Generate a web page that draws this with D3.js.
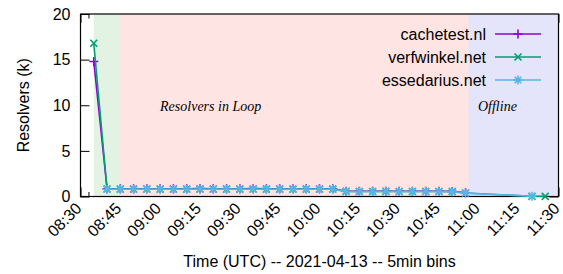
<!DOCTYPE html>
<html><head><meta charset="utf-8">
<script src="https://cdn.jsdelivr.net/npm/d3@7"></script>
<style>
html,body{margin:0;padding:0;background:#fff;}
svg{display:block;font-family:"Liberation Sans",Arial,Helvetica,sans-serif;}
</style></head>
<body>
<svg id="c" width="563" height="274"></svg>
<script>
// ---- data ----
const times = ["08:35","08:40","08:45","08:50","08:55","09:00","09:05","09:10","09:15","09:20",
  "09:25","09:30","09:35","09:40","09:45","09:50","09:55","10:00","10:05","10:10",
  "10:15","10:20","10:25","10:30","10:35","10:40","10:45","10:50","10:55","11:20","11:25"];
const seriesNames = ["cachetest.nl","verfwinkel.net","essedarius.net"];
const cachetest = [14.8,0.85,0.84,0.84,0.85,0.84,0.84,0.85,0.86,0.85,
  0.84,0.84,0.86,0.85,0.84,0.84,0.84,0.84,0.84,0.58,
  0.57,0.57,0.58,0.57,0.57,0.57,0.57,0.56,0.4,null,null];
const verfwinkel = [16.8,0.82,0.81,0.81,0.82,0.81,0.81,0.81,0.82,0.81,
  0.81,0.81,0.82,0.81,0.81,0.81,0.81,0.81,0.81,0.56,
  0.55,0.55,0.56,0.55,0.55,0.55,0.55,0.54,0.38,0.02,0.01];
const essedarius = [null,0.8,0.79,0.79,0.8,0.79,0.79,0.79,0.8,0.79,
  0.79,0.79,0.8,0.79,0.79,0.79,0.79,0.79,0.79,0.55,
  0.54,0.54,0.55,0.54,0.54,0.54,0.54,0.53,0.37,0.02,null];
const xTickLabels = ["08:30","08:45","09:00","09:15","09:30","09:45","10:00","10:15","10:30","10:45","11:00","11:15","11:30"];
const yTicks = [0,5,10,15,20];
const bandStarts = ["08:35","08:45","10:56:30"];
const bandEnds = ["08:45","10:56:30","11:30"];
const bandLabels = ["Resolvers in Loop","Offline"];
const bandLabelTimes = ["09:19","11:07"];
const xDomain = ["08:30","11:30"];
const yDomain = [0,20];

// ---- helpers ----
const parseT = s => { const p = s.split(":").map(Number); return new Date(Date.UTC(2021,3,13,p[0],p[1],p[2]||0)); };

const m = {l:80.5, r:558.5, t:14, b:196.5};
const svg = d3.select("#c");

const x = d3.scaleUtc().domain(xDomain.map(parseT)).range([m.l, m.r]);
const y = d3.scaleLinear().domain(yDomain).range([m.b, m.t]);

const majorTicks = xTickLabels.map(parseT);
const minorTicks = d3.utcMinute.every(3).range(parseT("08:30"), parseT("11:31"))
  .filter(d => d.getUTCMinutes() % 15 !== 0);

// minor ticks (bottom/top)
svg.append("g").attr("transform",`translate(0,${m.b})`)
  .call(d3.axisBottom(x).tickValues(minorTicks).tickSize(-4.5).tickFormat(""))
  .call(g=>g.select(".domain").remove());
svg.append("g").attr("transform",`translate(0,${m.t})`)
  .call(d3.axisTop(x).tickValues(minorTicks).tickSize(-4.5).tickFormat(""))
  .call(g=>g.select(".domain").remove());

// major x ticks
const xa = svg.append("g").attr("transform",`translate(0,${m.b})`)
  .call(d3.axisBottom(x).tickValues(majorTicks).tickSize(-9).tickFormat(d3.utcFormat("%H:%M")));
xa.select(".domain").remove();
xa.selectAll("text")
  .attr("x",0).attr("y",0).attr("dy",null)
  .attr("text-anchor","end")
  .attr("transform","translate(1.5,13) rotate(-45)")
  .attr("font-size",16).attr("font-family","Liberation Sans, Arial, sans-serif").attr("fill","#000");
svg.append("g").attr("transform",`translate(0,${m.t})`)
  .call(d3.axisTop(x).tickValues(majorTicks).tickSize(-9).tickFormat(""))
  .call(g=>g.select(".domain").remove());

// y ticks
const ya = svg.append("g").attr("transform",`translate(${m.l},0)`)
  .call(d3.axisLeft(y).tickValues(yTicks).tickSize(-9).tickPadding(10));
ya.select(".domain").remove();
ya.selectAll("text").attr("font-size",16).attr("font-family","Liberation Sans, Arial, sans-serif").attr("fill","#000");
svg.append("g").attr("transform",`translate(${m.r},0)`)
  .call(d3.axisRight(y).tickValues(yTicks).tickSize(-9).tickFormat(""))
  .call(g=>g.select(".domain").remove());

svg.selectAll(".tick line").attr("stroke","#000").attr("stroke-width",1);

// bands (drawn over the tick marks, as in the reference)
const bandColors = ["#e3f3e3","#ffe4e4","#e4e4fa"];
svg.append("g").selectAll("rect").data(bandStarts).join("rect")
  .attr("x",(d,i)=>x(parseT(d)) - (i===0 ? 0 : 1))
  .attr("width",(d,i)=>x(parseT(bandEnds[i]))-x(parseT(d)) + (i===0 ? 0 : 1))
  .attr("y",m.t).attr("height",m.b-m.t)
  .attr("fill",(d,i)=>bandColors[i]);

// band labels
svg.append("g").selectAll("text").data(bandLabels).join("text")
  .attr("x",(d,i)=>x(parseT(bandLabelTimes[i])))
  .attr("y",111)
  .attr("text-anchor","middle")
  .attr("font-family","Liberation Serif, Times New Roman, serif")
  .attr("font-style","italic").attr("font-size",14)
  .text(d=>d);

// border
svg.append("rect").attr("x",m.l).attr("y",m.t).attr("width",m.r-m.l).attr("height",m.b-m.t)
  .attr("fill","none").attr("stroke","#000").attr("stroke-width",1.2);

// series
const colors = ["#9400d3","#009e73","#56b4e9"];
const markerPaths = [
  "M-4.5,0H4.5M0,-4.5V4.5",
  "M-3.5,-3.5L3.5,3.5M-3.5,3.5L3.5,-3.5",
  "M-4.5,0H4.5M0,-4.5V4.5M-3.3,-3.3L3.3,3.3M-3.3,3.3L3.3,-3.3"
];
const allSeries = [cachetest, verfwinkel, essedarius];
const line = d3.line().x(d=>x(d.t)).y(d=>y(d.v));
allSeries.forEach((vals,i)=>{
  const pts = times.map((t,j)=>({t:parseT(t), v:vals[j]})).filter(d=>d.v!=null);
  const g = svg.append("g");
  g.append("path").datum(pts).attr("d",line).attr("fill","none")
    .attr("stroke",colors[i]).attr("stroke-width",1.6);
  g.selectAll("path.mk").data(pts).join("path").attr("class","mk")
    .attr("d",markerPaths[i]).attr("transform",d=>`translate(${x(d.t)},${y(d.v)})`)
    .attr("fill","none").attr("stroke",colors[i]).attr("stroke-width",1.6);
});

// legend
const legY = [34, 57, 80];
const lg = svg.append("g");
seriesNames.forEach((n,i)=>{
  lg.append("text").attr("x",486).attr("y",legY[i]).attr("dy","0.35em")
    .attr("text-anchor","end").attr("font-size",16).text(n);
  lg.append("line").attr("x1",495).attr("x2",541).attr("y1",legY[i]).attr("y2",legY[i])
    .attr("stroke",colors[i]).attr("stroke-width",1.6);
  lg.append("path").attr("d",markerPaths[i]).attr("transform",`translate(518,${legY[i]})`)
    .attr("fill","none").attr("stroke",colors[i]).attr("stroke-width",1.6);
});

// axis titles
svg.append("text").attr("transform",`translate(29,${(m.t+m.b)/2}) rotate(-90)`)
  .attr("text-anchor","middle").attr("font-size",16).text("Resolvers (k)");
svg.append("text").attr("x",(m.l+m.r)/2).attr("y",267)
  .attr("text-anchor","middle").attr("font-size",16).text("Time (UTC) -- 2021-04-13 -- 5min bins");
</script>
</body></html>
